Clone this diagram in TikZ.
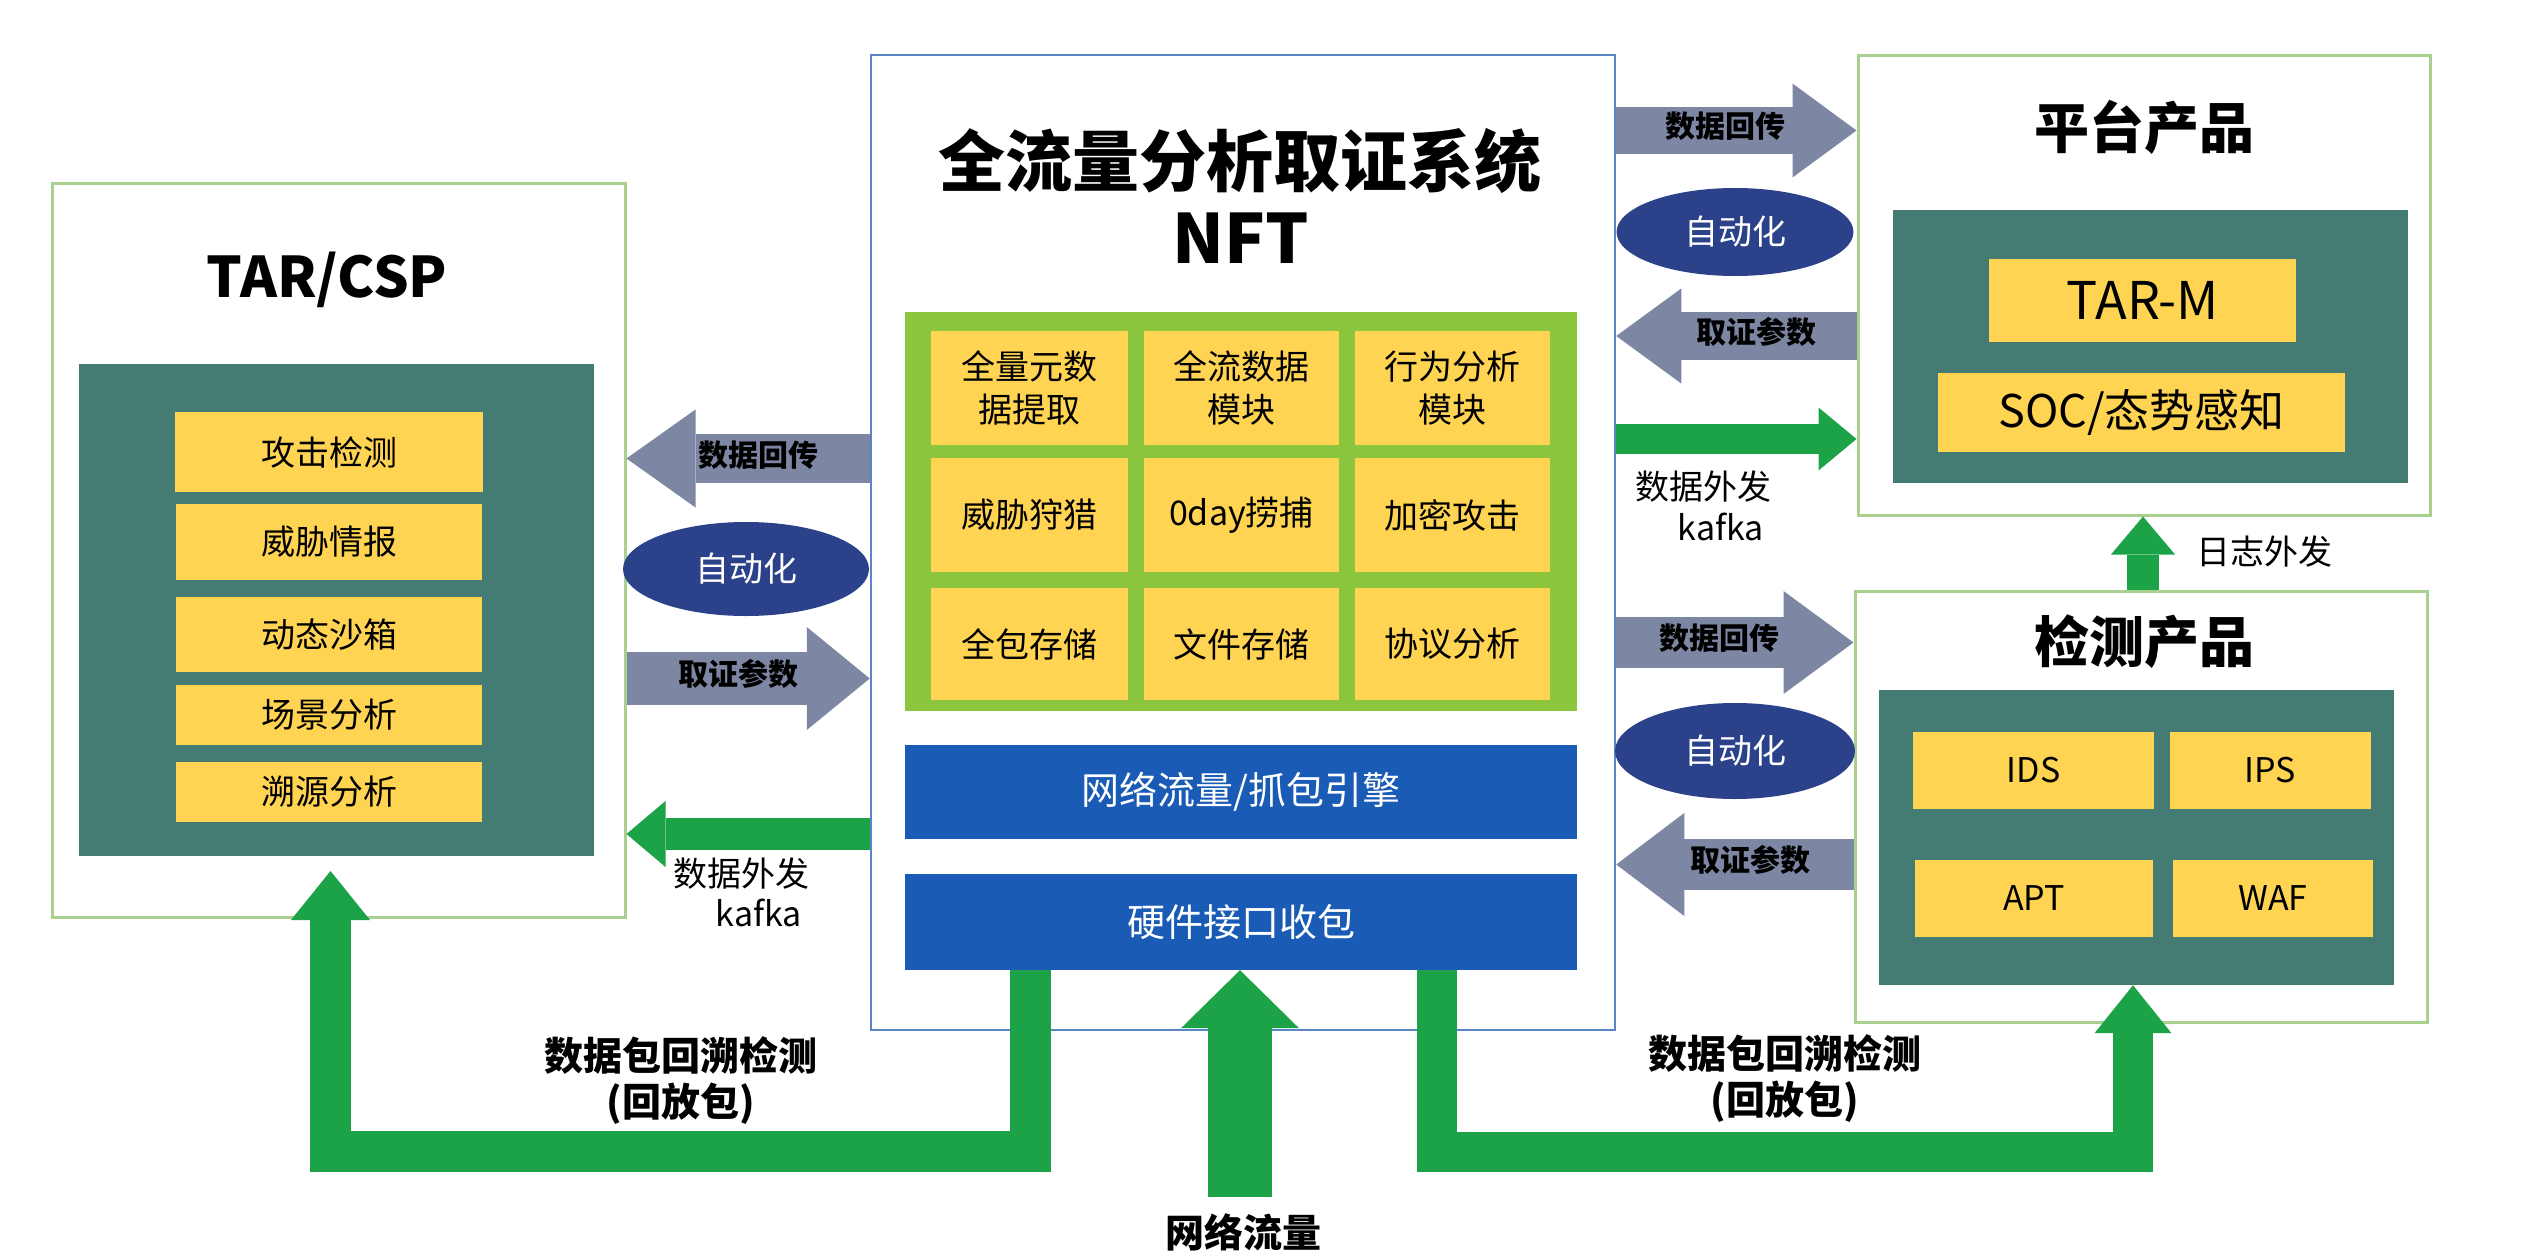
\documentclass[tikz,border=0pt]{standalone}
\usepackage{fontspec}
\setmainfont{Noto Sans CJK SC}
\usetikzlibrary{arrows.meta,shapes.geometric}
\definecolor{cGray}{HTML}{7D87A3}
\definecolor{cNavy}{HTML}{2B428B}
\definecolor{cTeal}{HTML}{447B73}
\definecolor{cYel}{HTML}{FFD452}
\definecolor{cGreen}{HTML}{1CA347}
\definecolor{cLime}{HTML}{8CC63F}
\definecolor{cBlue}{HTML}{1A5CB5}
\definecolor{cBoxG}{HTML}{A9D08E}
\definecolor{cBoxB}{HTML}{5A86C8}
\newcommand{\fs}[1]{\fontsize{#1}{#1}\selectfont}
\tikzset{
  gbox/.style={draw=cBoxG, line width=3pt, fill=white, inner sep=0pt},
  bbox/.style={draw=cBoxB, line width=2.5pt, fill=white, inner sep=0pt},
  tealbox/.style={fill=cTeal, inner sep=0pt},
  ybox/.style={fill=cYel, inner sep=0pt, text=black, align=center, font=\fontsize{34}{43}\selectfont},
  bluebar/.style={fill=cBlue, inner sep=0pt, text=white, font=\fs{38}},
  limepanel/.style={fill=cLime, inner sep=0pt},
  autoell/.style={ellipse, fill=cNavy, inner sep=0pt, text=white, font=\fs{34}},
  fatarrow/.style n args={3}{line width=#1pt, line join=miter,
     -{Triangle[length=#2pt,width=#3pt,line width=0pt]}},
  arrlbl/.style={inner sep=0pt, text=black, font=\bfseries\fs{30}},
  plainlbl/.style={inner sep=0pt, text=black, font=\fs{34}},
  biglbl/.style={inner sep=0pt, text=black, font=\bfseries\fs{39}},
  title/.style={inner sep=0pt, text=black, font=\bfseries\fs{#1}},
}
\begin{document}
\begin{tikzpicture}[x=1pt,y=-1pt]
\useasboundingbox[fill=white] (0,0) rectangle (2530,1260);

% ---------- TAR/CSP ----------
\node[gbox, minimum width=573, minimum height=733] (tar) at (338.5,550.5) {};
\node[title=56] (tartitle) at (327,280) {TAR/CSP};
\node[tealbox, minimum width=515, minimum height=492] (tarteal) at (336.5,610) {};
\node[ybox, minimum width=308, minimum height=80] (t1) at (329,452) {攻击检测};
\node[ybox, minimum width=306, minimum height=76] (t2) at (329,542) {威胁情报};
\node[ybox, minimum width=306, minimum height=75] (t3) at (329,634.5) {动态沙箱};
\node[ybox, minimum width=306, minimum height=60] (t4) at (329,715) {场景分析};
\node[ybox, minimum width=306, minimum height=60] (t5) at (329,792) {溯源分析};

% ---------- NFT ----------
\node[bbox, minimum width=744, minimum height=975] (nft) at (1243,542.5) {};
\node[title=67] (nfttitle1) at (1240,161) {全流量分析取证系统};
\node[title=68] (nfttitle2) at (1241,238) {NFT};
\node[limepanel, minimum width=672, minimum height=399] (panel) at (1241,511.5) {};
\node[ybox, minimum width=197, minimum height=114] (c11) at (1029.5,388) {全量元数\\据提取};
\node[ybox, minimum width=195, minimum height=114] (c12) at (1241.5,388) {全流数据\\模块};
\node[ybox, minimum width=195, minimum height=114] (c13) at (1452.5,388) {行为分析\\模块};
\node[ybox, minimum width=197, minimum height=114] (c21) at (1029.5,515) {威胁狩猎};
\node[ybox, minimum width=195, minimum height=114] (c22) at (1241.5,515) {0day捞捕};
\node[ybox, minimum width=195, minimum height=114] (c23) at (1452.5,515) {加密攻击};
\node[ybox, minimum width=197, minimum height=112] (c31) at (1029.5,644) {全包存储};
\node[ybox, minimum width=195, minimum height=112] (c32) at (1241.5,644) {文件存储};
\node[ybox, minimum width=195, minimum height=112] (c33) at (1452.5,644) {协议分析};
\node[bluebar, minimum width=672, minimum height=94] (blue1) at (1241,792) {网络流量/抓包引擎};
\node[bluebar, minimum width=672, minimum height=96] (blue2) at (1241,922) {硬件接口收包};

% ---------- 平台产品 ----------
\node[gbox, minimum width=572, minimum height=459] (plat) at (2144,285.5) {};
\node[title=55] (plattitle) at (2144,127) {平台产品};
\node[tealbox, minimum width=515, minimum height=273] (platteal) at (2150.5,346.5) {};
\node[ybox, minimum width=307, minimum height=83, font=\fs{52}] (tarm) at (2142.5,300.5) {TAR-M};
\node[ybox, minimum width=407, minimum height=79, font=\fs{45}] (soc) at (2141.5,412.5) {SOC/态势感知};

% ---------- 检测产品 ----------
\node[gbox, minimum width=572, minimum height=431] (det) at (2141,806.5) {};
\node[title=55] (dettitle) at (2144,642) {检测产品};
\node[tealbox, minimum width=515, minimum height=295] (detteal) at (2136.5,837.5) {};
\node[ybox, minimum width=241, minimum height=77] (ids) at (2033.5,770.5) {IDS};
\node[ybox, minimum width=201, minimum height=77] (ips) at (2270.5,770.5) {IPS};
\node[ybox, minimum width=238, minimum height=77] (apt) at (2034,898.5) {APT};
\node[ybox, minimum width=200, minimum height=77] (waf) at (2273,898.5) {WAF};

% ---------- left connectors ----------
\draw[fatarrow={49}{69}{98}, draw=cGray] (nft.west |- 0,458.5) -- (tar.east |- 0,458.5);
\node[arrlbl] (l1) at (758,455) {数据回传};
\node[autoell, minimum width=246, minimum height=94] (auto1) at (746,569) {自动化};
\draw[fatarrow={53}{63}{103}, draw=cGray] (tar.east |- 0,678.5) -- (nft.west |- 0,678.5);
\node[arrlbl] (l2) at (738,674) {取证参数};
\draw[fatarrow={32}{39}{66}, draw=cGreen] (nft.west |- 0,834) -- (tar.east |- 0,834);
\node[plainlbl] (l3) at (741,874) {数据外发};
\node[plainlbl] (l4) at (759,913) {kafka};

% ---------- right connectors ----------
\draw[fatarrow={47}{64}{94}, draw=cGray] (nft.east |- 0,130.5) -- (plat.west |- 0,130.5);
\node[arrlbl] (r1) at (1725,126) {数据回传};
\node[autoell, minimum width=237, minimum height=88] (auto2) at (1735,232) {自动化};
\draw[fatarrow={48}{65}{95}, draw=cGray] (plat.west |- 0,336) -- (nft.east |- 0,336);
\node[arrlbl] (r2) at (1756,332) {取证参数};
\draw[fatarrow={30}{38}{63}, draw=cGreen] (nft.east |- 0,439) -- (plat.west |- 0,439);
\node[plainlbl] (r3) at (1703,487) {数据外发};
\node[plainlbl] (r4) at (1721,527) {kafka};
\draw[fatarrow={32}{38}{64}, draw=cGreen] (det.north -| 2143,0) -- (plat.south -| 2143,0);
\node[plainlbl] (r5) at (2264,552) {日志外发};

\draw[fatarrow={51}{70}{103}, draw=cGray] (nft.east |- 0,642.5) -- (det.west |- 0,642.5);
\node[arrlbl] (r6) at (1719,638) {数据回传};
\node[autoell, minimum width=240, minimum height=96] (auto3) at (1735,751) {自动化};
\draw[fatarrow={51}{68}{103}, draw=cGray] (det.west |- 0,864.5) -- (nft.east |- 0,864.5);
\node[arrlbl] (r7) at (1750,860) {取证参数};

% ---------- bottom connectors ----------
\coordinate (netin) at (1240,1197);
\coordinate (tarin) at (330.5,871);
\draw[fatarrow={64}{58}{118}, draw=cGreen] (netin) -- (blue2.south -| 1240,0);
\node[biglbl] (net) at (1243,1232) {网络流量};
\draw[fatarrow={41}{49}{79}, draw=cGreen] (blue2.south -| 1030.5,0) |- (330.5,1151.5) -- (tarin);
\draw[fatarrow={40}{48}{77}, draw=cGreen] (blue2.south -| 1437,0) |- (2133,1151.5) -- (detteal.south -| 2133,0);
\node[biglbl] (b1) at (681,1056) {数据包回溯检测};
\node[biglbl] (b2) at (681,1104) {(回放包)};
\node[biglbl] (b3) at (1785,1054) {数据包回溯检测};
\node[biglbl] (b4) at (1785,1102) {(回放包)};
\end{tikzpicture}
\end{document}
